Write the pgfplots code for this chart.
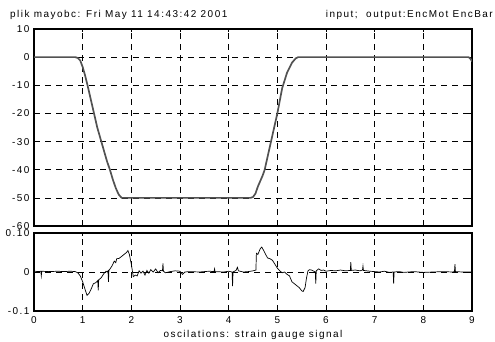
\documentclass[border=0pt]{standalone}
\usepackage{fontspec}
\setmainfont{Liberation Sans}[LetterSpace=15]
\usepackage{pgfplots}
\pgfplotsset{compat=1.18}
\begin{document}
\fontsize{10}{12}\selectfont
\begin{tikzpicture}
\useasboundingbox (0,0) rectangle (495bp,342bp);
\pgfplotsset{
  myax/.style={
    scale only axis, width=438bp,
    xmin=0, xmax=9, xtick={0,1,...,9},
    tick align=inside, major tick length=3bp,
    axis line style={line width=1.1pt},
    every tick/.style={black, line width=0.6pt},
    grid=major,
    major grid style={black, line width=0.6pt, dash pattern=on 5.5bp off 5.5bp},
    tick label style={font=\fontsize{10}{12}\selectfont},
    yticklabel style={xshift=-1bp},
    xticklabel style={yshift=-2bp},
    clip=true,
  }
}
\begin{axis}[myax, at={(34bp,116bp)}, anchor=south west, height=197bp,
  ymin=-60, ymax=10, ytick={-60,-50,...,10},
  yticklabels={-60,-50,-40,-30,-20,-10,0,10},
  xticklabels={}]
\addplot[color=black!68, line width=1.7pt] coordinates {
(0,0) (0.85,0) (0.9,-0.3) (0.95,-1.2) (1.0,-3.5) (1.05,-6.5) (1.1,-10) (1.2,-17.5) (1.3,-25) (1.4,-31) (1.5,-37) (1.56,-40) (1.62,-43.5) (1.68,-46.5) (1.74,-48.8) (1.8,-50) (4.45,-50) (4.5,-49.7) (4.55,-48.5) (4.6,-46) (4.7,-42) (4.74,-40) (4.87,-30) (5.0,-20) (5.1,-11) (5.2,-5.5) (5.3,-2) (5.38,-0.4) (5.43,0) (8.93,0) (8.97,-0.6) (9,-1.5)
};
\end{axis}
\begin{axis}[myax, at={(34bp,31bp)}, anchor=south west, height=78bp,
  ymin=-0.1, ymax=0.1, ytick={-0.1,0,0.1},
  yticklabels={-0.1,0,0.10},
  xticklabels={0,1,2,3,4,5,6,7,8,9},
  xlabel={oscilations: strain gauge signal},
  xlabel style={yshift=0bp}]
\addplot[black, line width=0.7pt] coordinates {
(0,0.002) (0.1,0.001) (0.14,0.002) (0.15,-0.01) (0.16,0.002) (0.3,0.001) (0.5,0.002) (0.6,0.001) (0.75,0.002) (0.85,0.001) (0.9,-0.002) (0.95,-0.01) (1.0,-0.025) (1.05,-0.045) (1.09,-0.06) (1.13,-0.055) (1.18,-0.042) (1.22,-0.03) (1.26,-0.028) (1.29,-0.025) (1.31,-0.022) (1.32,-0.047) (1.33,-0.02) (1.38,-0.015) (1.43,-0.005) (1.48,0.002) (1.5,0.0) (1.52,0.003) (1.53,-0.025) (1.54,0.004) (1.6,0.015) (1.65,0.028) (1.68,0.024) (1.7,0.034) (1.75,0.035) (1.8,0.04) (1.85,0.045) (1.9,0.05) (1.93,0.055) (1.96,0.045) (2.0,0.02) (2.04,-0.012) (2.08,-0.008) (2.12,-0.01) (2.16,0.003) (2.2,-0.003) (2.24,0.002) (2.28,-0.008) (2.32,0.004) (2.36,-0.003) (2.4,0.006) (2.45,0.0) (2.5,0.008) (2.55,-0.002) (2.6,0.004) (2.64,0.003) (2.65,0.022) (2.66,0.002) (2.7,-0.002) (2.8,0.001) (2.9,0.003) (3.0,0.002) (3.05,-0.006) (3.1,0.0) (3.2,0.001) (3.4,0.0) (3.6,0.002) (3.7,0.001) (3.71,0.008) (3.72,0.001) (3.9,0.0) (4.0,0.002) (4.07,0.0) (4.08,-0.036) (4.09,0.0) (4.15,0.004) (4.18,0.012) (4.2,0.003) (4.3,0.0) (4.4,0.001) (4.5,0.003) (4.56,0.005) (4.57,0.048) (4.6,0.045) (4.65,0.06) (4.68,0.064) (4.72,0.055) (4.76,0.045) (4.8,0.036) (4.85,0.034) (4.9,0.03) (4.95,0.02) (5.0,0.01) (5.05,0.003) (5.1,-0.002) (5.15,0.0) (5.2,-0.006) (5.25,-0.01) (5.3,-0.025) (5.35,-0.03) (5.4,-0.035) (5.45,-0.04) (5.5,-0.048) (5.53,-0.05) (5.57,-0.04) (5.6,-0.015) (5.63,0.003) (5.66,0.006) (5.7,0.005) (5.78,0.0) (5.79,-0.03) (5.8,0.003) (5.85,0.008) (5.9,0.004) (5.95,0.005) (6.0,0.002) (6.1,0.004) (6.2,0.003) (6.3,0.005) (6.4,0.003) (6.5,0.004) (6.51,0.025) (6.52,0.004) (6.6,0.005) (6.7,0.003) (6.75,0.005) (6.76,0.015) (6.77,0.004) (6.9,0.002) (7.0,0.001) (7.1,0.0) (7.2,0.002) (7.3,-0.001) (7.38,0.0) (7.39,-0.03) (7.4,0.0) (7.5,0.001) (7.6,-0.001) (7.8,0.001) (8.0,-0.001) (8.2,0.0) (8.4,0.001) (8.6,0.0) (8.64,0.001) (8.65,0.02) (8.66,0.001) (8.8,0.0) (9.0,0.0)
};
\end{axis}
\node[anchor=base west, inner sep=0] at (10bp,324bp) {plik mayobc: Fri May 11 14:43:42 2001};
\node[anchor=base east, inner sep=0] at (493bp,324bp) {input;\ \ output:EncMot EncBar};
\end{tikzpicture}
\end{document}
